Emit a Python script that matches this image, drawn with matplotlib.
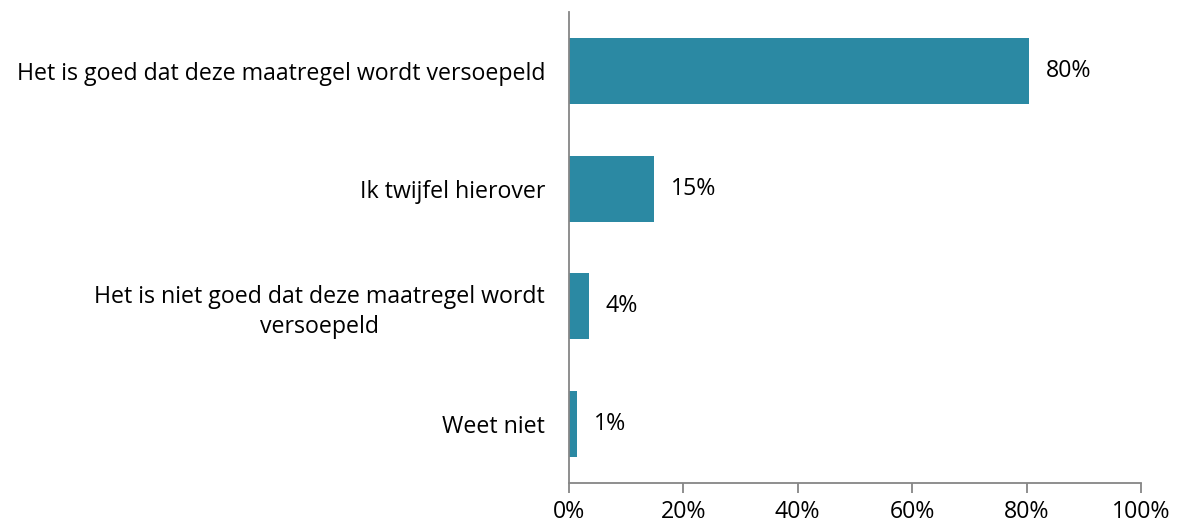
import matplotlib
matplotlib.use('Agg')
import matplotlib.pyplot as plt
from matplotlib.ticker import FuncFormatter

categories = [
    'Het is goed dat deze maatregel wordt versoepeld',
    'Ik twijfel hierover',
    'Het is niet goed dat deze maatregel wordt\nversoepeld',
    'Weet niet',
]
values = [80.4, 14.9, 3.5, 1.4]
labels = ['80%', '15%', '4%', '1%']
xticks = [0, 20, 40, 60, 80, 100]

plt.rcParams['font.family'] = ['Open Sans', 'DejaVu Sans']
fs = 16.7

fig = plt.figure(figsize=(11.8, 5.26), dpi=100)
ax = fig.add_axes([0.482, 0.082, 0.485, 0.895])

ypos = range(len(categories))
ax.barh(ypos, values, height=0.56, color='#2B89A3')
ax.set_ylim(len(categories) - 0.5, -0.5)
ax.set_xlim(0, 100)

for i, (v, lab) in enumerate(zip(values, labels)):
    ax.text(v + 3.0, i, lab, va='center', ha='left', fontsize=fs, color='black')

ax.set_yticks(list(ypos))
ax.set_yticklabels(categories, fontsize=fs, multialignment='center', linespacing=1.3)
ax.tick_params(axis='y', length=0, pad=17)

ax.set_xticks(xticks)
ax.xaxis.set_major_formatter(FuncFormatter(lambda x, p: f'{x:.0f}%'))
ax.tick_params(axis='x', labelsize=fs, length=7, width=1.3, color='#868686', pad=5)

for s in ['top', 'right']:
    ax.spines[s].set_visible(False)
for s in ['left', 'bottom']:
    ax.spines[s].set_color('#868686')
    ax.spines[s].set_linewidth(1.3)

plt.savefig('out.png', dpi=100)
